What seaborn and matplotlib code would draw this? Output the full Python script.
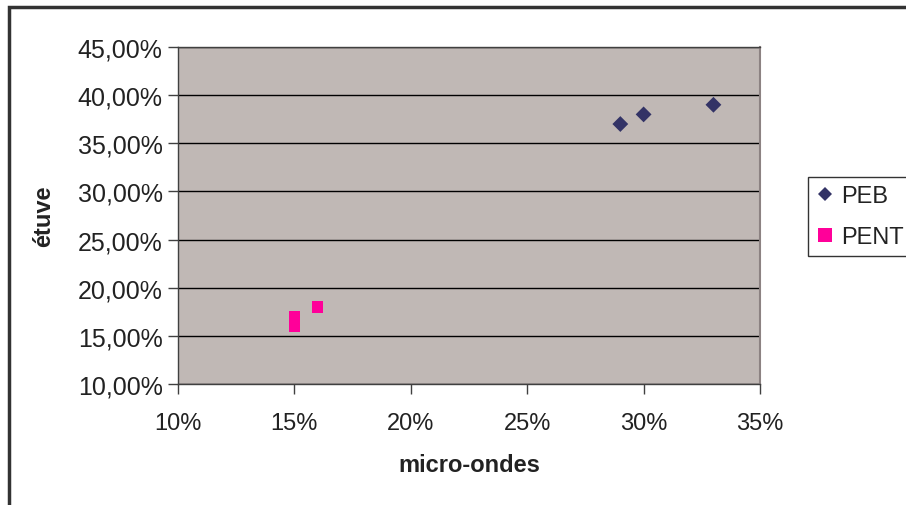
import pandas as pd
import matplotlib.pyplot as plt
import matplotlib.ticker as mticker
from matplotlib.patches import Rectangle
import seaborn as sns

# valeurs (fractions)
peb_micro = [0.29, 0.30, 0.33]
peb_etuve = [0.37, 0.38, 0.39]
pent_micro = [0.15, 0.15, 0.16]
pent_etuve = [0.17, 0.16, 0.18]
series = ["PEB", "PENT"]

df = pd.DataFrame({
    "micro-ondes": peb_micro + pent_micro,
    "étuve": peb_etuve + pent_etuve,
    "serie": [series[0]] * len(peb_micro) + [series[1]] * len(pent_micro),
})

sns.set_style("white")
plt.rcParams["font.family"] = ["Liberation Sans", "DejaVu Sans"]

fig = plt.figure(figsize=(9.06, 5.06), dpi=100)
ax = fig.add_axes([178 / 906, 1 - 385 / 506, 582 / 906, 337 / 506])
ax.set_facecolor("#C0B8B5")

sns.scatterplot(
    data=df, x="micro-ondes", y="étuve", hue="serie", style="serie",
    palette={"PEB": "#333366", "PENT": "#FF0099"},
    markers={"PEB": "D", "PENT": "s"},
    s=90, linewidth=0, ax=ax, zorder=3,
)
# tailles des marqueurs (losange / carré)
for coll, sz in zip(ax.collections, [65, 135]):
    coll.set_sizes([sz])

ax.set_xlim(0.10, 0.35)
ax.set_ylim(0.10, 0.45)
ax.xaxis.set_major_locator(mticker.MultipleLocator(0.05))
ax.yaxis.set_major_locator(mticker.MultipleLocator(0.05))
ax.xaxis.set_major_formatter(mticker.FuncFormatter(lambda v, p: f"{v * 100:.0f}%"))
ax.yaxis.set_major_formatter(
    mticker.FuncFormatter(lambda v, p: f"{v * 100:.2f}%".replace(".", ",")))

ax.grid(axis="y", color="black", linewidth=1)
ax.grid(axis="x", visible=False)
ax.set_axisbelow(True)
ax.tick_params(axis="both", which="major", direction="out", length=7, width=1,
               colors="#404040", labelcolor="#222222", bottom=True, left=True)
ax.tick_params(axis="y", pad=4, labelsize=18)
ax.tick_params(axis="x", pad=13, labelsize=17)
for side in ["left", "bottom", "top"]:
    ax.spines[side].set_color("#404040")
    ax.spines[side].set_linewidth(1)
ax.spines["right"].set_color("#8C8282")
ax.spines["right"].set_linewidth(1.5)

ax.set_xlabel("micro-ondes", fontsize=17, fontweight="bold", color="#222222", labelpad=14)
ax.set_ylabel("étuve", fontsize=17, fontweight="bold", color="#222222", labelpad=16)

handles, labels = ax.get_legend_handles_labels()
ax.legend(handles, labels, loc="upper left", bbox_to_anchor=(808 / 906, 1 - 178 / 506),
          bbox_transform=fig.transFigure, frameon=True, fancybox=False, fontsize=17,
          edgecolor="#333333", framealpha=1, borderpad=0.35, handletextpad=0.35,
          labelspacing=0.8, handlelength=0.7, borderaxespad=0)
leg = ax.get_legend()
leg.get_frame().set_linewidth(1)
for t in leg.get_texts():
    t.set_color("#222222")
for h, ms in zip(leg.legend_handles, [7, 10]):
    h.set_markersize(ms)

# cadre extérieur (coupé à droite et en bas)
fig.patches.append(Rectangle((8.5 / 906, -0.5), 2, 1.5 - 8 / 506, transform=fig.transFigure,
                             fill=False, edgecolor="#333333", linewidth=2.5))

fig.savefig("out.png", dpi=100)
